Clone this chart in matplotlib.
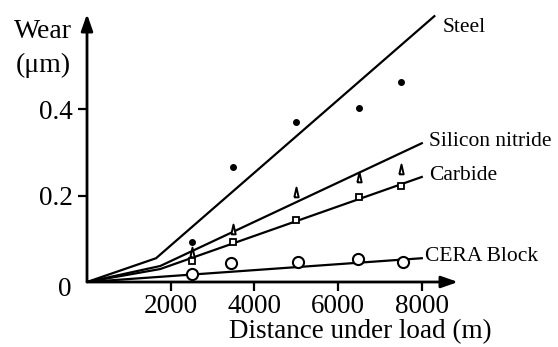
import matplotlib.pyplot as plt

plt.rcParams['font.family'] = ['Liberation Serif', 'DejaVu Serif']

# measured points (distance in m, wear in um)
distance = [2500, 3500, 5000, 6500, 7500]
steel = [0.093, 0.265, 0.369, 0.403, 0.463]
silicon_nitride = [0.070, 0.122, 0.209, 0.243, 0.261]
carbide = [0.049, 0.092, 0.143, 0.197, 0.223]
cera_x = [2520, 3450, 5040, 6480, 7540]
cera = [0.019, 0.045, 0.046, 0.053, 0.046]

# fitted trend lines (piecewise from origin)
steel_fit_x = [0, 1650, 8300]
steel_fit = [0, 0.055, 0.615]
sin_fit_x = [0, 1750, 8000]
sin_fit = [0, 0.037, 0.321]
carbide_fit_x = [0, 1750, 8000]
carbide_fit = [0, 0.030, 0.243]
cera_fit_x = [0, 1750, 8000]
cera_fit = [0, 0.012, 0.055]

labels = ['Steel', 'Silicon nitride', 'Carbide', 'CERA Block']
xticks = [2000, 4000, 6000, 8000]
yticks = [0.2, 0.4]

fig = plt.figure(figsize=(5.58, 3.47), dpi=100)
ax = fig.add_axes([87 / 558, 65 / 347, 371 / 558, 268 / 347])
ax.set_xlim(0, 8865)
ax.set_ylim(0, 0.62)

fs = 15.5     # curve labels
fs_ax = 19.5  # ticks and axis titles
lw = 1.6

# narrow, tall triangle like the original
narrow_tri = [(-0.45, -1), (0.45, -1), (0, 1), (-0.45, -1)]

# trend lines
ax.plot(steel_fit_x, steel_fit, color='black', lw=lw)
ax.plot(sin_fit_x, sin_fit, color='black', lw=lw)
ax.plot(carbide_fit_x, carbide_fit, color='black', lw=lw)
ax.plot(cera_fit_x, cera_fit, color='black', lw=lw)

# data markers
ax.plot(distance, steel, 'o', color='black', ms=4, zorder=3)
ax.plot(distance, silicon_nitride, marker=narrow_tri, ls='none', mfc='white',
        mec='black', mew=1.4, ms=7, zorder=3)
ax.plot(distance, carbide, 's', mfc='white', mec='black', mew=1.3, ms=4.5,
        zorder=3)
ax.plot(cera_x, cera, 'o', mfc='white', mec='black', mew=1.5, ms=8, zorder=3)

# line labels
ax.annotate(labels[0], (steel_fit_x[-1], steel_fit[-1]), xytext=(6, -8),
            textcoords='offset points', fontsize=fs, va='center')
ax.annotate(labels[1], (sin_fit_x[-1], sin_fit[-1]), xytext=(5, 1),
            textcoords='offset points', fontsize=fs, va='center')
ax.annotate(labels[2], (carbide_fit_x[-1], carbide_fit[-1]), xytext=(5, 1),
            textcoords='offset points', fontsize=fs, va='center')
ax.annotate(labels[3], (cera_fit_x[-1], cera_fit[-1]), xytext=(2, 1),
            textcoords='offset points', fontsize=fs, va='center')

# axes with arrow heads
for s in ['top', 'right', 'left', 'bottom']:
    ax.spines[s].set_visible(False)
ax.annotate('', xy=(1, 0), xytext=(0, 0), xycoords='axes fraction',
            arrowprops=dict(arrowstyle='-|>,head_length=1.0,head_width=0.35',
                            color='black', lw=2, shrinkA=0, shrinkB=0))
ax.annotate('', xy=(0, 1), xytext=(0, 0), xycoords='axes fraction',
            arrowprops=dict(arrowstyle='-|>,head_length=1.0,head_width=0.35',
                            color='black', lw=2, shrinkA=0, shrinkB=0))

ax.set_xticks(xticks)
ax.set_xticklabels([str(t) for t in xticks], fontsize=fs_ax)
ax.set_yticks(yticks)
ax.set_yticklabels([str(t) for t in yticks], fontsize=fs_ax)
ax.tick_params(axis='both', direction='out', length=6.5, width=1.6, pad=2)
ax.tick_params(axis='y', pad=4)

fig.text(65 / 558, 1 - 290 / 347, '0', fontsize=fs_ax, ha='center',
         va='center')
fig.text(43 / 558, 1 - 32 / 347, 'Wear', fontsize=fs_ax + 0.5, ha='center',
         va='center')
fig.text(43 / 558, 1 - 65 / 347, '(\u03bcm)', fontsize=fs_ax + 0.5,
         ha='center', va='center')
fig.text(360 / 558, 1 - 332 / 347, 'Distance under load (m)', fontsize=fs_ax,
         ha='center', va='center')

fig.savefig('out.png', dpi=100)
